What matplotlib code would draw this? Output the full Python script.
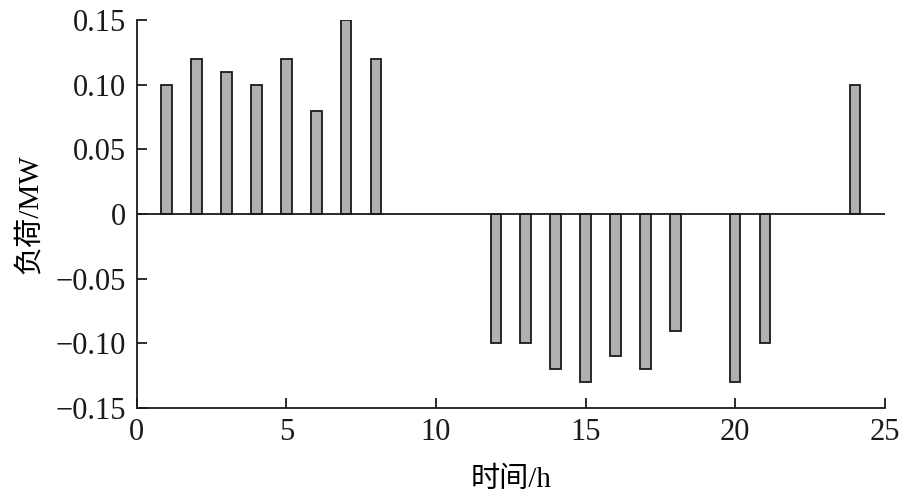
import numpy as np
import matplotlib.pyplot as plt

plt.rcParams['font.family'] = ['Liberation Serif', 'Noto Sans CJK SC']
plt.rcParams['axes.unicode_minus'] = True

hours = [1, 2, 3, 4, 5, 6, 7, 8, 12, 13, 14, 15, 16, 17, 18, 20, 21, 24]
load = [0.10, 0.12, 0.11, 0.10, 0.12, 0.08, 0.15, 0.12,
        -0.10, -0.10, -0.12, -0.13, -0.11, -0.12, -0.09, -0.13, -0.10, 0.10]

yticks = [-0.15, -0.10, -0.05, 0, 0.05, 0.10, 0.15]
ytick_labels = ['\u22120.15', '\u22120.10', '\u22120.05', '0', '0.05', '0.10', '0.15']

fig = plt.figure(figsize=(9, 4.99), dpi=100)
ax = fig.add_axes([0.152, 0.182, 0.831, 0.778])

ax.bar(hours, load, width=0.35, color='#b0b0b0', edgecolor='#1a1a1a', linewidth=1.3, zorder=3)
ax.axhline(0, color='#1a1a1a', linewidth=1.3, zorder=4)

ax.set_xlim(0, 25)
ax.set_ylim(-0.15, 0.15)
ax.set_xticks([0, 5, 10, 15, 20, 25])
ax.set_yticks(yticks)
ax.set_yticklabels(ytick_labels)

ax.spines['top'].set_visible(False)
ax.spines['right'].set_visible(False)
for s in ['left', 'bottom']:
    ax.spines[s].set_linewidth(1.3)
    ax.spines[s].set_color('#1a1a1a')

ax.tick_params(direction='in', length=7, width=1.3, labelsize=22, colors='#1a1a1a')
ax.tick_params(axis='x', pad=7)
ax.tick_params(axis='y', pad=8)

ax.set_xlabel('时间/h', fontsize=21, labelpad=14)
ax.set_ylabel('负荷/MW', fontsize=21, labelpad=9)

fig.savefig('out.png', dpi=100)
